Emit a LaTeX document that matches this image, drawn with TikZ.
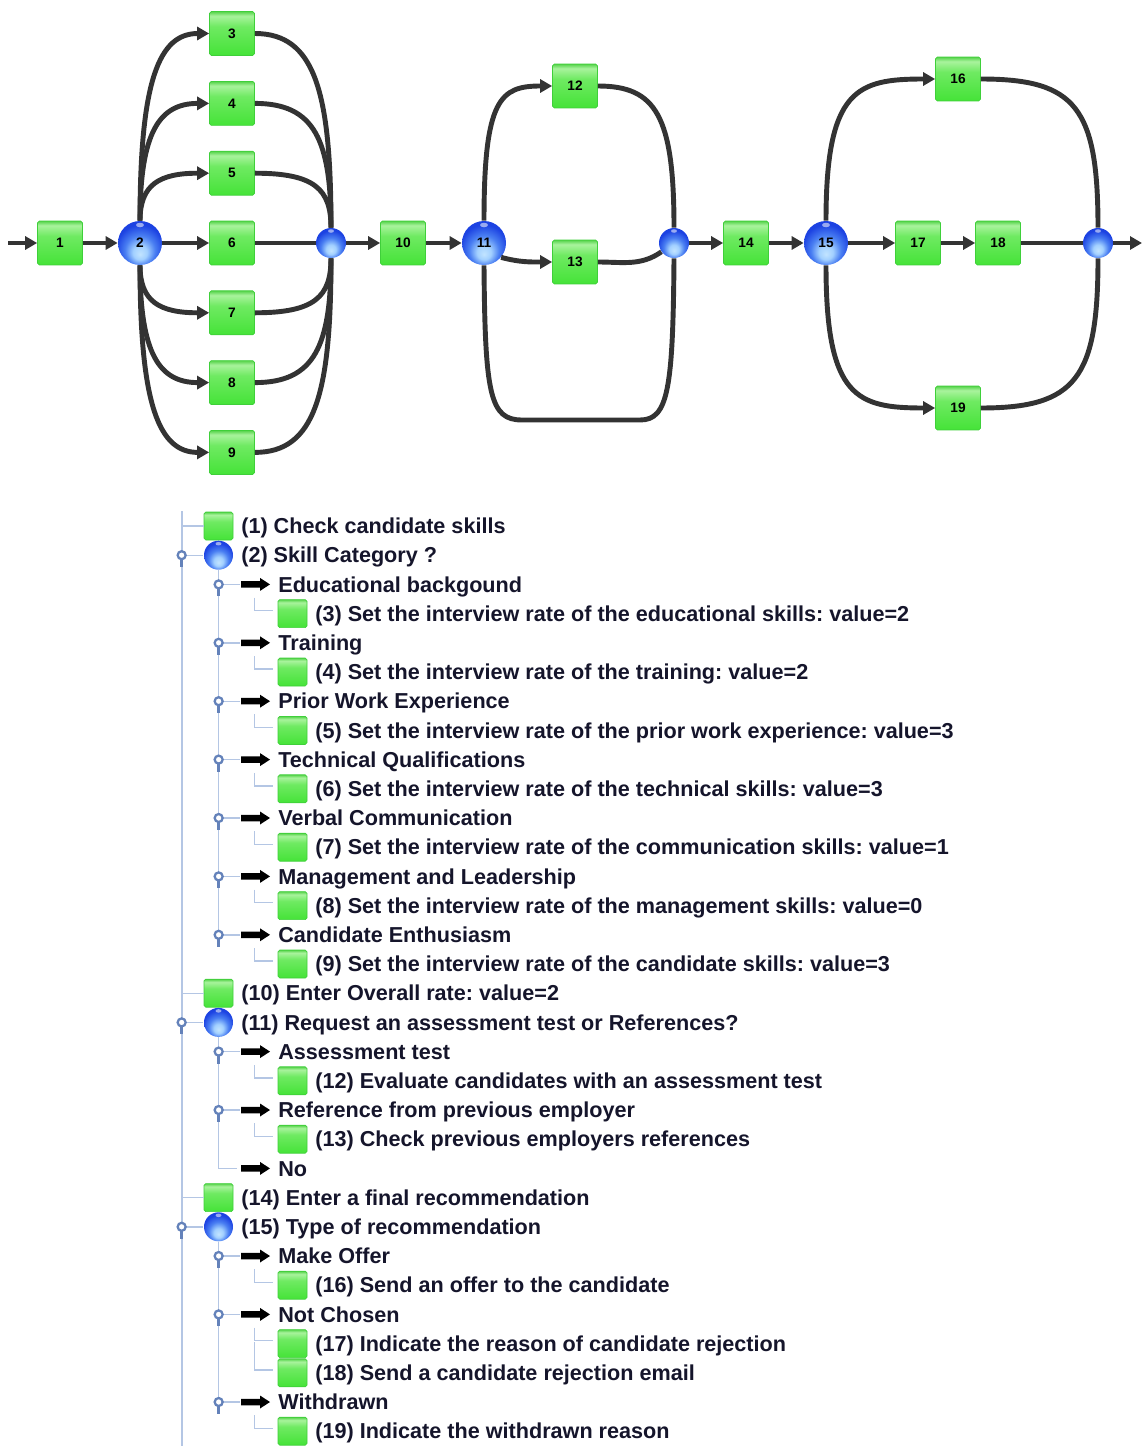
\documentclass[tikz,border=0pt]{standalone}
\usepackage{fontspec}
\setmainfont{Liberation Sans}
\usetikzlibrary{arrows.meta, positioning}
\frenchspacing

\definecolor{gris}{HTML}{333333}
\definecolor{tinta}{HTML}{15152B}
\definecolor{guia}{HTML}{B4C6E4}
\definecolor{asacol}{HTML}{6482BA}
\definecolor{verdeborde}{HTML}{3FCF3A}
\definecolor{verdeA}{HTML}{45E338}
\definecolor{verdeB}{HTML}{6FEA62}
\definecolor{verdeC}{HTML}{A9F39D}
\definecolor{verdeD}{HTML}{55D34A}
\definecolor{esfA}{HTML}{C2E4FF}
\definecolor{esfB}{HTML}{A2D0FF}
\definecolor{esfC}{HTML}{4A7FF2}
\definecolor{esfD}{HTML}{1C42E2}

\pgfdeclareverticalshading{verdecaja}{100bp}{color(0bp)=(verdeA); color(25bp)=(verdeA);
  color(58bp)=(verdeB); color(70bp)=(verdeC); color(75bp)=(verdeD); color(100bp)=(verdeD)}
\pgfdeclareradialshading{esfera}{\pgfpoint{0bp}{-13bp}}{color(0bp)=(esfA); color(8bp)=(esfB);
  color(17bp)=(esfC); color(27bp)=(esfD); color(50bp)=(esfD)}

\begin{document}
\begin{tikzpicture}[x=0.02cm, y=-0.02cm,
    caja/.style    = {rectangle, rounded corners=1pt, draw=verdeborde, line width=0.4pt,
                      shading=verdecaja, minimum width=0.9cm, minimum height=0.88cm,
                      inner sep=0pt, font=\bfseries\fontsize{7.8}{9}\selectfont},
    bola/.style    = {circle, shading=esfera, minimum size=0.88cm, inner sep=0pt,
                      font=\bfseries\fontsize{7.8}{9}\selectfont,
                      path picture={\fill[white, opacity=0.55]
                        ([yshift=-0.08cm]path picture bounding box.north)
                        ellipse [x radius=0.08cm, y radius=0.045cm];}},
    union/.style   = {bola, minimum size=0.6cm,
                      path picture={\fill[white, opacity=0.55]
                        ([yshift=-0.06cm]path picture bounding box.north)
                        ellipse [x radius=0.06cm, y radius=0.035cm];}},
    conector/.style= {draw=gris, line width=2.8pt, -{Triangle[length=0.24cm, width=0.26cm]}},
    linea/.style   = {draw=gris, line width=2.8pt},
    %--- arbol
    tcaja/.style   = {caja, minimum width=0.58cm, minimum height=0.56cm},
    tbola/.style   = {union, minimum size=0.58cm},
    tflecha/.style = {rectangle, minimum width=0.58cm, minimum height=0.26cm, inner sep=0pt,
                      path picture={\fill[black]
                        ([yshift=0.065cm]path picture bounding box.west)
                        -- ([xshift=-0.2cm, yshift=0.065cm]path picture bounding box.east)
                        -- ([xshift=-0.2cm]path picture bounding box.north east)
                        -- (path picture bounding box.east)
                        -- ([xshift=-0.2cm]path picture bounding box.south east)
                        -- ([xshift=-0.2cm, yshift=-0.065cm]path picture bounding box.east)
                        -- ([yshift=-0.065cm]path picture bounding box.west) -- cycle;}},
    texto/.style   = {anchor=base west, inner sep=0pt, text=tinta,
                      font=\bfseries\fontsize{12.3}{14}\selectfont},
    rama/.style    = {draw=guia, line width=0.8pt},
    asa/.pic       = {
      \draw[rama] (4,0) -- (21,0);
      \draw[draw=asacol, line width=1.6pt] (0,4) -- (0,12);
      \draw[draw=asacol, line width=1.3pt, fill=white] (0,0) circle [radius=4];
    },
  ]
  \useasboundingbox (0,0) rectangle (1142,1446);

  %-------------------------------------------------- flujo superior
  \coordinate (entrada) at (8,243);
  \coordinate (salida)  at (1142,243);
  \node[caja]  (b1)  at (60,243)  {1};
  \node[bola]  (n2)  at (140,243) {2};
  \foreach \k/\y in {3/33.5, 4/103.4, 5/173.2, 6/243, 7/312.8, 8/382.6, 9/452.4}
    \node[caja] (b\k) at (232,\y) {\k};
  \node[union] (m1)  at (331,243) {};
  \node[caja]  (b10) at (403,243) {10};
  \node[bola]  (n11) at (484,243) {11};
  \node[caja]  (b12) at (575,86)  {12};
  \node[caja]  (b13) at (575,262) {13};
  \node[union] (m2)  at (674,243) {};
  \node[caja]  (b14) at (746,243) {14};
  \node[bola]  (n15) at (826,243) {15};
  \node[caja]  (b16) at (958,79)  {16};
  \node[caja]  (b17) at (918,243) {17};
  \node[caja]  (b18) at (998,243) {18};
  \node[caja]  (b19) at (958,408) {19};
  \node[union] (m3)  at (1098,243) {};

  %-------------------------------------------------- 1 -> 2 -> ramas
  \draw[conector] (entrada) -- (b1);
  \draw[conector] (b1) -- (n2);
  \foreach \k/\y in {3/33.5, 4/103.4, 5/173.2} {
    \draw[conector] (n2.north) .. controls +(0,{-0.75*(221-\y)}) and +(-50,0) .. (b\k.west);
    \draw[linea] (b\k.east) .. controls +(60,0) and +(0,{-0.7*(228-\y)}) .. (m1.north);
  }
  \foreach \k/\y in {7/312.8, 8/382.6, 9/452.4} {
    \draw[conector] (n2.south) .. controls +(0,{0.75*(\y-265)}) and +(-50,0) .. (b\k.west);
    \draw[linea] (b\k.east) .. controls +(60,0) and +(0,{0.7*(\y-258)}) .. (m1.south);
  }
  \draw[conector] (n2) -- (b6);
  \draw[linea]    (b6) -- (m1);
  \draw[conector] (m1) -- (b10);
  \draw[conector] (b10) -- (n11);

  %-------------------------------------------------- 11 -> 12 / 13 / nada
  \draw[conector] (n11.north) .. controls +(0,-122) and +(-52,0) .. (b12.west);
  \draw[linea]    (b12.east) .. controls +(58,0) and +(0,-112) .. (m2.north);
  \draw[conector] (n11.-40) to[out=-15, in=180] (b13.west);
  \draw[linea]    (b13.east) to[out=0, in=-145] (m2.-145);
  \draw[linea]    (n11.south) .. controls (485,395) and (490,420) .. (522,420)
                  -- (640,420) .. controls (668,420) and (673,390) .. (m2.south);
  \draw[conector] (m2) -- (b14);
  \draw[conector] (b14) -- (n15);

  %-------------------------------------------------- 15 -> 16 / 17-18 / 19
  \draw[conector] (n15.north) .. controls +(0,-132) and +(-78,0) .. (b16.west);
  \draw[linea]    (b16.east) .. controls +(95,0) and +(0,-120) .. (m3.north);
  \draw[conector] (n15) -- (b17);
  \draw[conector] (b17) -- (b18);
  \draw[linea]    (b18) -- (m3);
  \draw[conector] (n15.south) .. controls +(0,133) and +(-78,0) .. (b19.west);
  \draw[linea]    (b19.east) .. controls +(95,0) and +(0,120) .. (m3.south);
  \draw[conector] (m3) -- (salida);

  %-------------------------------------------------- arbol
  \draw[rama] (182,511) -- (182,1446);
  \foreach \niv/\tipo/\txt [count=\i from 0] in {
      1/tcaja/{(1) Check candidate skills},
      1/tbola/{(2) Skill Category ?},
      2/tflecha/{Educational backgound},
      3/tcaja/{(3) Set the interview rate of the educational skills: value=2},
      2/tflecha/{Training},
      3/tcaja/{(4) Set the interview rate of the training: value=2},
      2/tflecha/{Prior Work Experience},
      3/tcaja/{(5) Set the interview rate of the prior work experience: value=3},
      2/tflecha/{Technical Qualifications},
      3/tcaja/{(6) Set the interview rate of the technical skills: value=3},
      2/tflecha/{Verbal Communication},
      3/tcaja/{(7) Set the interview rate of the communication skills: value=1},
      2/tflecha/{Management and Leadership},
      3/tcaja/{(8) Set the interview rate of the management skills: value=0},
      2/tflecha/{Candidate Enthusiasm},
      3/tcaja/{(9) Set the interview rate of the candidate skills: value=3},
      1/tcaja/{(10) Enter Overall rate: value=2},
      1/tbola/{(11) Request an assessment test or References?},
      2/tflecha/{Assessment test},
      3/tcaja/{(12) Evaluate candidates with an assessment test},
      2/tflecha/{Reference from previous employer},
      3/tcaja/{(13) Check previous employers references},
      2/tflecha/{No},
      1/tcaja/{(14) Enter a final recommendation},
      1/tbola/{(15) Type of recommendation},
      2/tflecha/{Make Offer},
      3/tcaja/{(16) Send an offer to the candidate},
      2/tflecha/{Not Chosen},
      3/tcaja/{(17) Indicate the reason of candidate rejection},
      3/tcaja/{(18) Send a candidate rejection email},
      2/tflecha/{Withdrawn},
      3/tcaja/{(19) Indicate the withdrawn reason}} {
    \pgfmathsetmacro\fx{218.5+37*(\niv-1)}
    \pgfmathsetmacro\fy{526+29.2*\i}
    \node[\tipo] (i\i) at (\fx,\fy) {};
    \node[texto] (t\i) at ({\fx+22.5},{\fy+7.7}) {\txt};
  }

  %--- lineas del arbol
  \foreach \i in {0,16,23}
    \draw[rama] (i\i.west) -- ++(-22,0);
  \draw[rama] (i1.south)  -- (i1 |- i14);
  \draw[rama] (i17.south) |- ([xshift=-0.08cm]i22.west);
  \draw[rama] (i24.south) -- (i24 |- i30);
  \foreach \i in {1,17,24,2,4,6,8,10,12,14,18,20,25,27,30}
    \pic at ([xshift=-0.44cm]i\i.west) {asa};
  \foreach \i in {3,5,7,9,11,13,15,19,21,26,28,31}
    \draw[rama] ([xshift=-0.46cm, yshift=0.32cm]i\i.west) |- ([xshift=-0.1cm, yshift=0.06cm]i\i.west);
  \draw[rama] ([xshift=-0.46cm, yshift=0.62cm]i29.west) |- ([xshift=-0.1cm, yshift=0.06cm]i29.west);
\end{tikzpicture}
\end{document}
